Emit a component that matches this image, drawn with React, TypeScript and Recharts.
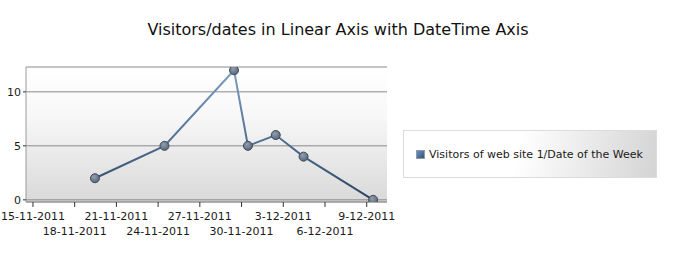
import {
  CartesianGrid,
  Legend,
  Line,
  LineChart,
  ReferenceArea,
  XAxis,
  YAxis,
} from "recharts";

const visitDates = [
  "2011-11-19T11:00Z",
  "2011-11-24T11:00Z",
  "2011-11-29T11:00Z",
  "2011-11-30T11:00Z",
  "2011-12-02T11:00Z",
  "2011-12-04T11:00Z",
  "2011-12-09T11:00Z",
];
const visitors = [2, 5, 12, 5, 6, 4, 0];

const tickDates = [
  "2011-11-15T00:00Z",
  "2011-11-18T00:00Z",
  "2011-11-21T00:00Z",
  "2011-11-24T00:00Z",
  "2011-11-27T00:00Z",
  "2011-11-30T00:00Z",
  "2011-12-03T00:00Z",
  "2011-12-06T00:00Z",
  "2011-12-09T00:00Z",
];
const tickLabels = [
  "15-11-2011",
  "18-11-2011",
  "21-11-2011",
  "24-11-2011",
  "27-11-2011",
  "30-11-2011",
  "3-12-2011",
  "6-12-2011",
  "9-12-2011",
];
const yTicks = [0, 5, 10];

const seriesName = "Visitors of web site 1/Date of the Week";
const font = '"DejaVu Sans", Verdana, sans-serif';

const tickValues = tickDates.map((d) => Date.parse(d));
const chartData = visitDates.map((d, i) => ({
  date: Date.parse(d),
  visitors: visitors[i],
}));

function DateTick({ x, y, payload }: any) {
  const i = tickValues.indexOf(payload.value);
  return (
    <text
      x={x}
      y={y + (i % 2 === 0 ? 11 : 26)}
      textAnchor="middle"
      fontSize={11}
      fontFamily={font}
      fill="#1a1a1a"
    >
      {tickLabels[i]}
    </text>
  );
}

function LegendBox() {
  return (
    <div
      style={{
        width: 252,
        height: 46,
        border: "1px solid #dcdcdc",
        background: "linear-gradient(100deg, #ffffff 45%, #d4d4d4 100%)",
        display: "flex",
        alignItems: "center",
        fontFamily: font,
        fontSize: 11,
        color: "#1a1a1a",
      }}
    >
      <span
        style={{
          width: 7,
          height: 7,
          marginLeft: 12,
          marginRight: 4,
          border: "1px solid #8a9ab0",
          background: "linear-gradient(135deg, #6f8fba, #34527a)",
        }}
      />
      {seriesName}
    </div>
  );
}

export default function App() {
  return (
    <div
      style={{
        position: "absolute",
        left: 0,
        top: 0,
        width: 673,
        height: 260,
        background: "#fff",
      }}
    >
      <div
        style={{
          position: "absolute",
          left: 0,
          top: 20,
          width: 676,
          textAlign: "center",
          fontFamily: font,
          fontSize: 16,
          color: "#111",
        }}
      >
        Visitors/dates in Linear Axis with DateTime Axis
      </div>
      <LineChart
        width={673}
        height={260}
        data={chartData}
        margin={{ top: 67, right: 286, bottom: 13, left: 0 }}
      >
        <defs>
          <linearGradient id="plotBg" x1="0" y1="0" x2="0" y2="1">
            <stop offset="0%" stopColor="#ffffff" />
            <stop offset="35%" stopColor="#f8f8f8" />
            <stop offset="100%" stopColor="#d9d9d9" />
          </linearGradient>
          <linearGradient id="lineGrad" x1="0" y1="0" x2="0" y2="1">
            <stop offset="0%" stopColor="#7f9fc4" />
            <stop offset="100%" stopColor="#2a4665" />
          </linearGradient>
          <radialGradient id="dotGrad" cx="40%" cy="35%" r="70%">
            <stop offset="0%" stopColor="#909eae" />
            <stop offset="100%" stopColor="#56647a" />
          </radialGradient>
        </defs>
        <CartesianGrid
          vertical={false}
          stroke="#8a8a8a"
          fill="url(#plotBg)"
          fillOpacity={1}
        />
        <XAxis
          dataKey="date"
          type="number"
          scale="time"
          domain={[Date.parse("2011-11-14T12:00Z"), Date.parse("2011-12-10T11:00Z")]}
          ticks={tickValues}
          interval={0}
          tick={<DateTick />}
          tickSize={5}
          height={45}
          stroke="#9a9a9a"
          tickLine={{ stroke: "#333" }}
          allowDataOverflow
        />
        <YAxis
          type="number"
          domain={[-0.2, 12.3]}
          ticks={yTicks}
          width={26}
          tickSize={3}
          tickMargin={2}
          stroke="#9a9a9a"
          tickLine={{ stroke: "#333" }}
          tick={{ fontSize: 11, fontFamily: font, fill: "#1a1a1a" }}
          allowDataOverflow
        />
        <ReferenceArea
          fill="none"
          stroke="#a0a0a0"
          strokeWidth={1}
          ifOverflow="visible"
        />
        <Line
          type="linear"
          dataKey="visitors"
          name={seriesName}
          stroke="url(#lineGrad)"
          strokeWidth={2}
          dot={{ r: 4.5, fill: "url(#dotGrad)", stroke: "#3f4a57", strokeWidth: 1 }}
          activeDot={false}
          isAnimationActive={false}
        />
        <Legend
          layout="vertical"
          align="center"
          verticalAlign="middle"
          content={<LegendBox />}
          wrapperStyle={{ left: 403, top: 130, width: 254, height: 48 }}
        />
      </LineChart>
    </div>
  );
}
